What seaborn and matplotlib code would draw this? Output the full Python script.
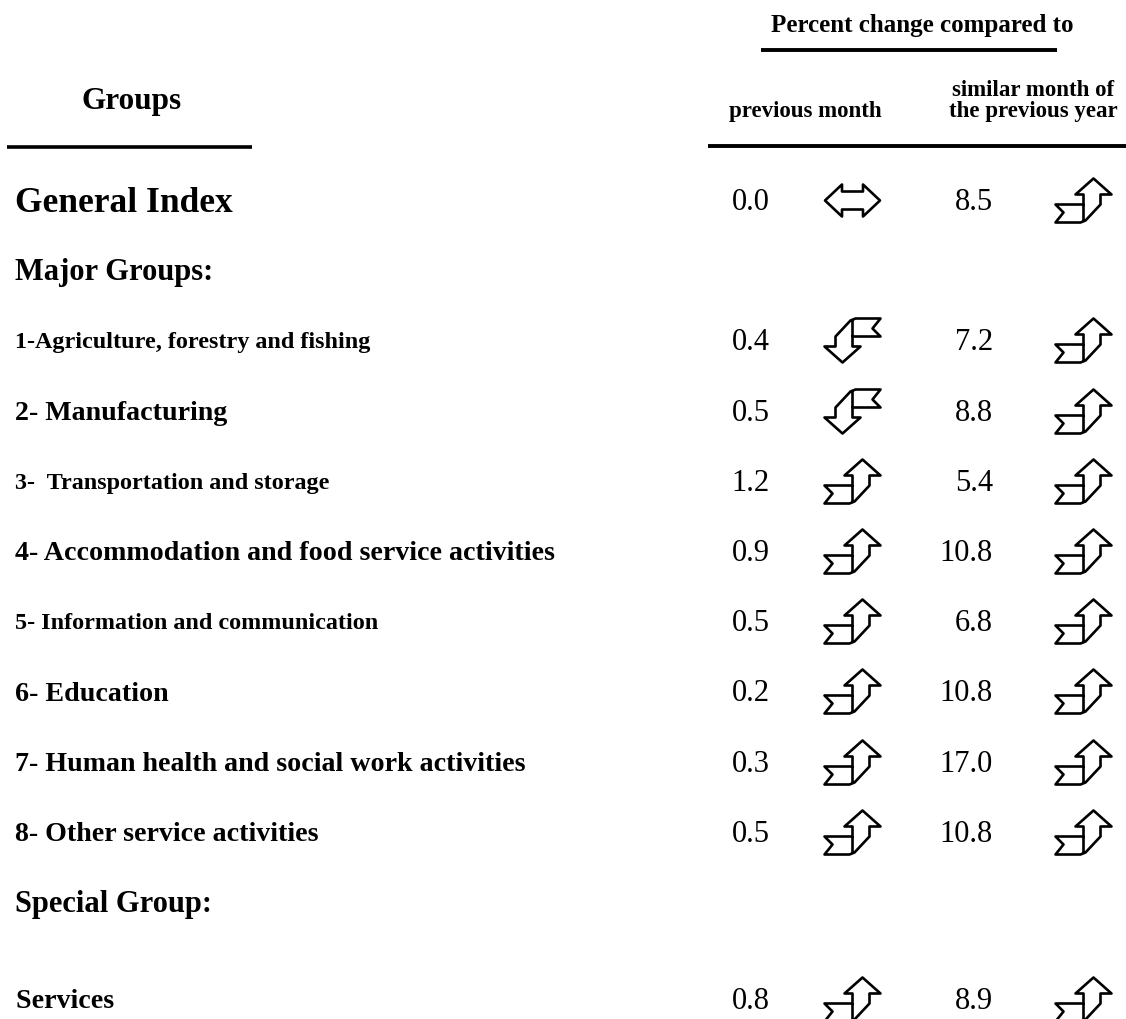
import numpy as np
import pandas as pd
import seaborn as sns
import matplotlib.pyplot as plt
from matplotlib.path import Path

# Table content
groups = [
    "General Index",
    "Major Groups:",
    "1-Agriculture, forestry and fishing",
    "2- Manufacturing",
    "3-  Transportation and storage",
    "4- Accommodation and food service activities",
    "5- Information and communication",
    "6- Education",
    "7- Human health and social work activities",
    "8- Other service activities",
    "Special Group:",
    " Services",
]
# the source document mixes two text sizes among the items
row_kind = ["index", "heading", "item", "item_big", "item", "item_big", "item",
            "item_big", "item_big", "item_big", "heading", "item_big"]
prev_month = [0.0, None, 0.4, 0.5, 1.2, 0.9, 0.5, 0.2, 0.3, 0.5, None, 0.8]
prev_year = [8.5, None, 7.2, 8.8, 5.4, 10.8, 6.8, 10.8, 17.0, 10.8, None, 8.9]
prev_month_dir = ["same", None, "down", "down", "up", "up", "up", "up", "up", "up", None, "up"]
prev_year_dir = ["up", None, "up", "up", "up", "up", "up", "up", "up", "up", None, "up"]

header_top = "Percent change compared to"
header_groups = "Groups"
header_col1 = "previous month"
header_col2 = "similar month of\nthe previous year"

sns.set_theme(style="white")
plt.rcParams["font.family"] = ["Liberation Serif", "DejaVu Serif"]
plt.rcParams["text.color"] = "black"

# layout (pixel units, y downwards)
W, H = 1126, 1019
row_y = 200 + 70.2 * np.arange(len(groups))
row_y[-1] += 27
num1_right, num2_right = 770, 993
arrow1_x, arrow2_x = 852, 1083
PX_PER_PT = 100 / 72


def em(pt):
    return pt * PX_PER_PT


# arrow shapes (px, y up)
up_verts = [(10, 22), (-8, 6), (0, 6), (0, -4), (-28, -4), (-20, -12), (-28, -22),
            (-3, -22), (2, -20), (17, -4), (17, 6), (28, 6), (10, 22),
            (0, -4), (0, -21)]
up_codes = [Path.MOVETO] + [Path.LINETO] * 11 + [Path.CLOSEPOLY, Path.MOVETO, Path.LINETO]
up_path = Path(up_verts, up_codes)
down_path = Path([(-x, -y) for x, y in up_verts], up_codes)
same_verts = [(-27.5, 0), (-10.5, 16), (-10.5, 9), (10.5, 9), (10.5, 16), (27.5, 0),
              (10.5, -16), (10.5, -9), (-10.5, -9), (-10.5, -16), (-27.5, 0)]
same_path = Path(same_verts, [Path.MOVETO] + [Path.LINETO] * 9 + [Path.CLOSEPOLY])
shapes = {"up": up_path, "down": down_path, "same": same_path}

df = pd.DataFrame({"group": groups, "kind": row_kind, "y": row_y,
                   "m": prev_month, "yr": prev_year,
                   "m_dir": prev_month_dir, "yr_dir": prev_year_dir})

fig = plt.figure(figsize=(W / 100, H / 100), dpi=100)
ax = fig.add_axes([0, 0, 1, 1])

# arrows as custom markers
arrows = pd.concat([
    pd.DataFrame({"x": arrow1_x, "y": df["y"], "dir": df["m_dir"]}),
    pd.DataFrame({"x": arrow2_x, "y": df["y"], "dir": df["yr_dir"]}),
]).dropna()
for d, sub in arrows.groupby("dir"):
    path = shapes[d]
    size_pt = 2 * np.abs(path.vertices).max() / PX_PER_PT
    sns.scatterplot(data=sub, x="x", y="y", marker=path, s=size_pt ** 2,
                    color="white", edgecolor="black", linewidth=1.9,
                    ax=ax, legend=False, zorder=3, clip_on=False)

# row labels and values
label_size = {"index": 25.5, "heading": 22, "item": 17.4, "item_big": 20.2}
num_size = 22
for i, r in df.iterrows():
    fs = label_size[r["kind"]]
    x0 = 15 - (6 if r["group"].startswith(" ") else 0)
    ax.text(x0, r["y"] + 0.33 * em(fs), r["group"], fontsize=fs,
            fontweight="bold", ha="left", va="baseline")
    if pd.notna(r["m"]):
        base = r["y"] + 0.33 * em(num_size)
        ax.text(num1_right, base, f"{r['m']:.1f}", fontsize=num_size,
                ha="right", va="baseline")
        ax.text(num2_right, base, f"{r['yr']:.1f}", fontsize=num_size,
                ha="right", va="baseline")

# header
ax.text(922, 32, header_top, fontsize=18, fontweight="bold", ha="center", va="baseline")
ax.plot([761, 1057], [50, 50], color="black", lw=2.8, solid_capstyle="butt")
ax.text(132, 109, header_groups, fontsize=22.5, fontweight="bold", ha="center", va="baseline")
ax.plot([7, 252], [147, 147], color="black", lw=2.6, solid_capstyle="butt")
ax.text(805, 117, header_col1, fontsize=16.5, fontweight="bold", ha="center", va="baseline")
ax.text(1033, 117, header_col2, fontsize=16.5, fontweight="bold", ha="center",
        va="baseline", linespacing=1.0, multialignment="center")
ax.plot([708, 1126], [146, 146], color="black", lw=2.8, solid_capstyle="butt")

ax.set_xlim(0, W)
ax.set_ylim(H, 0)
ax.axis("off")

fig.savefig("out.png", dpi=100, facecolor="white")
